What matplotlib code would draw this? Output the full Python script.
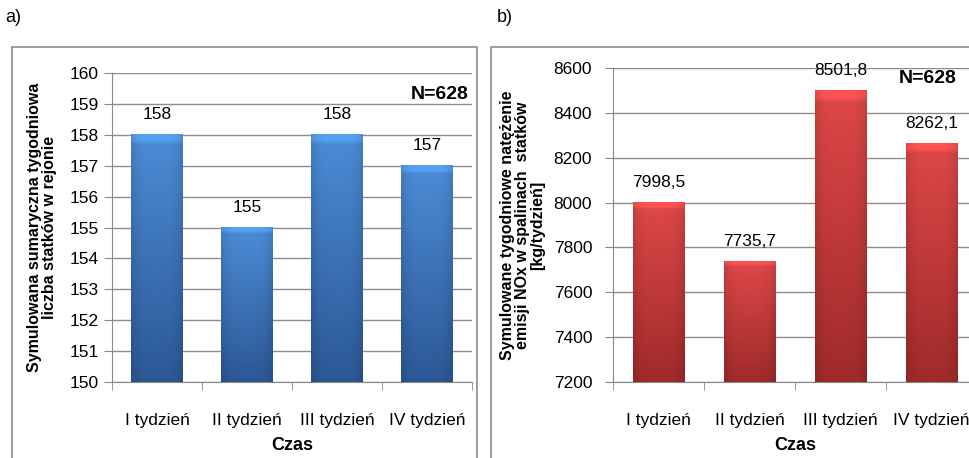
import matplotlib
matplotlib.use("Agg")
import matplotlib.pyplot as plt
import numpy as np
from matplotlib.patches import Rectangle

plt.rcParams['font.family'] = ['Liberation Sans', 'DejaVu Sans']

weeks = ['I tydzień', 'II tydzień', 'III tydzień', 'IV tydzień']
ships = [158, 155, 158, 157]
nox = [7998.5, 7735.7, 8501.8, 8262.1]
ship_labels = ['158', '155', '158', '157']
nox_labels = ['7998,5', '7735,7', '8501,8', '8262,1']


def gradient_bars(ax, bars, top_rgb, bottom_rgb):
    # fill each bar with a vertical gradient plus darker edges
    top = np.array(top_rgb) / 255.0
    bot = np.array(bottom_rgb) / 255.0
    ny, nx = 60, 40
    t = np.linspace(0, 1, ny)[:, None, None]
    col = top * (1 - t) + bot * t
    xs = np.linspace(-1, 1, nx)[None, :, None]
    shade = 1.0 - 0.12 * xs ** 4
    img = np.clip(col * shade, 0, 1)
    # light bevel along the top edge
    img[:2] = np.clip(img[:2] * 1.15, 0, 1)
    lo = ax.get_ylim()[0]
    for b in bars:
        x0, y1 = b.get_x(), b.get_y() + b.get_height()
        w = b.get_width()
        ax.imshow(img, extent=(x0, x0 + w, lo, y1), aspect='auto',
                  origin='upper', zorder=3, interpolation='bilinear')
        b.set_visible(False)


def style_axes(ax, lo, hi, step):
    x = np.arange(len(weeks))
    ax.set_xlim(-0.5, len(weeks) - 0.5)
    ax.set_ylim(lo, hi)
    ax.set_yticks(np.arange(lo, hi + step / 2, step))
    ax.set_xticks(x)
    ax.set_xticklabels(weeks, fontsize=12.5)
    ax.set_xticks(np.arange(-0.5, len(weeks)), minor=True)
    ax.tick_params(axis='x', which='major', length=0, pad=22)
    ax.tick_params(axis='x', which='minor', length=6, color='#888888')
    ax.tick_params(axis='y', length=6, color='#888888', labelsize=12.5)
    ax.grid(axis='y', color='#8c8c8c', linewidth=1)
    ax.set_axisbelow(True)
    for s in ['top', 'right']:
        ax.spines[s].set_visible(False)
    for s in ['left', 'bottom']:
        ax.spines[s].set_color('#888888')
    ax.set_xlabel('Czas', fontsize=13, fontweight='bold', labelpad=7)


fig = plt.figure(figsize=(9.69, 4.58), dpi=100)

# panel frames
fig.patches.append(Rectangle((12 / 969, -0.1), 465 / 969, 1.1 - 47 / 458,
                             transform=fig.transFigure, fill=False,
                             edgecolor='#8c8c8c', linewidth=1.2))
fig.patches.append(Rectangle((491 / 969, -0.1), 0.6, 1.1 - 47 / 458,
                             transform=fig.transFigure, fill=False,
                             edgecolor='#8c8c8c', linewidth=1.2))
fig.text(5 / 969, 1 - 18 / 458, 'a)', fontsize=13, va='center')
fig.text(497 / 969, 1 - 18 / 458, 'b)', fontsize=13, va='center')

x = np.arange(len(weeks))

# a) ships per week
ax1 = fig.add_axes([112 / 969, 1 - 382 / 458, 360 / 969, 309 / 458])
style_axes(ax1, 150, 160, 1)
bars1 = ax1.bar(x, ships, width=0.57, zorder=3)
ax1.set_ylim(150, 160)
gradient_bars(ax1, bars1, (76, 140, 214), (44, 88, 150))
for xi, v, lab in zip(x, ships, ship_labels):
    ax1.annotate(lab, (xi, v), xytext=(0, 9), textcoords='offset points',
                 ha='center', va='bottom', fontsize=12.5, zorder=4)
ax1.text(0.99, 0.93, 'N=628', transform=ax1.transAxes, ha='right', va='center',
         fontsize=14, fontweight='bold')
ax1.set_ylabel('Symulowana sumaryczna tygodniowa\nliczba statków w rejonie',
               fontsize=11.5, fontweight='bold', labelpad=9, linespacing=1.0)
ax1.set_xlim(-0.5, len(weeks) - 0.5)

# b) NOx emissions per week
ax2 = fig.add_axes([613 / 969, 1 - 382 / 458, 364 / 969, 314 / 458])
style_axes(ax2, 7200, 8600, 200)
bars2 = ax2.bar(x, nox, width=0.57, zorder=3)
ax2.set_ylim(7200, 8600)
gradient_bars(ax2, bars2, (222, 72, 72), (160, 42, 42))
for xi, v, lab in zip(x, nox, nox_labels):
    ax2.annotate(lab, (xi, v), xytext=(0, 9), textcoords='offset points',
                 ha='center', va='bottom', fontsize=12.5, zorder=4)
ax2.text(0.785, 0.965, 'N=628', transform=ax2.transAxes, ha='left', va='center',
         fontsize=14, fontweight='bold')
ax2.set_ylabel('Symulowane tygodniowe natężenie\nemisji NOx w spalinach  statków\n[kg/tydzień]',
               fontsize=11.5, fontweight='bold', labelpad=6, linespacing=1.0)
ax2.tick_params(axis='y', pad=9)
ax2.set_xlim(-0.5, len(weeks) - 0.5)

fig.savefig('out.png', dpi=100)
